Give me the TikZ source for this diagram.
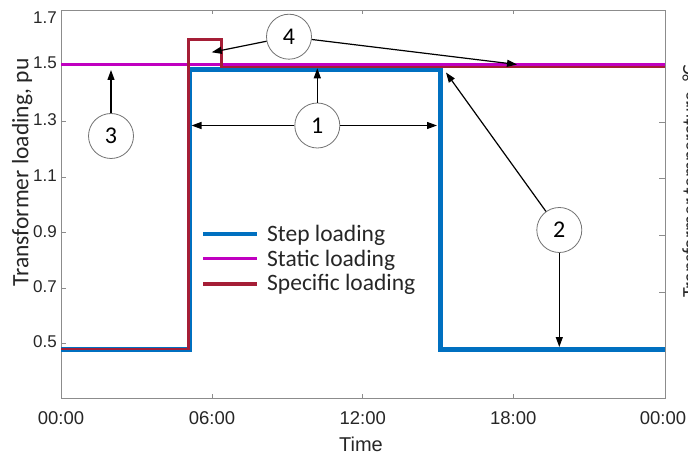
\documentclass[tikz,border=0pt]{standalone}
\usepackage{fontspec}
\setmainfont{Carlito}
\newfontfamily\arialfont{Liberation Sans}
\usetikzlibrary{arrows.meta}
\definecolor{steplc}{HTML}{0070C0}
\definecolor{staticlc}{HTML}{C000C0}
\definecolor{specificlc}{HTML}{A51E36}
\definecolor{axisgray}{HTML}{8C8C8C}
\definecolor{inkgray}{HTML}{262626}

\begin{document}
\begin{tikzpicture}[x=1pt,y=-1pt,
  axisline/.style={draw=axisgray, line width=1pt},
  yticklab/.style={anchor=east, inner sep=0pt, text=inkgray, font=\arialfont\fontsize{17}{17}\selectfont},
  xticklab/.style={anchor=center, inner sep=0pt, text=inkgray, font=\arialfont\fontsize{18.5}{18.5}\selectfont},
  legendtext/.style={anchor=base west, inner sep=0pt, text=inkgray, font=\fontsize{23.5}{23.5}\selectfont},
  callout/.style={circle, draw=black!55, line width=0.8pt, fill=white, minimum size=45pt, inner sep=0pt, text=black, font=\fontsize{24}{24}\selectfont},
  pointer/.style={draw=black, line width=1.2pt, -{Triangle[length=10pt,width=7pt]}}]
\useasboundingbox (0,0) rectangle (688,457);

% axes box and ticks
\draw[axisline] (61,10.5) rectangle (665,398);
\foreach \yy in {65,121.7,177.3,233,288.7,343.3}
  \draw[axisline] (61,\yy) -- ++(5,0);
\foreach \yy in {123,179,236,292}
  \draw[axisline] (665,\yy) -- ++(-6,0);
\foreach \xx in {212,362.7,513.3} {
  \draw[axisline] (\xx,10.5) -- ++(0,4);
  \draw[axisline] (\xx,398) -- ++(0,-4);
}

% tick labels
\node[yticklab] (l17) at (57,18) {1.7};
\node[yticklab] (l15) at (57,63) {1.5};
\node[yticklab] (l13) at (57,119.5) {1.3};
\node[yticklab] (l11) at (57,175.5) {1.1};
\node[yticklab] (l09) at (57,231.5) {0.9};
\node[yticklab] (l07) at (57,287) {0.7};
\node[yticklab] (l05) at (57,341.5) {0.5};
\node[xticklab] (h00) at (61,418) {00:00};
\node[xticklab] (h06) at (212,418) {06:00};
\node[xticklab] (h12) at (362.7,418) {12:00};
\node[xticklab] (h18) at (513.3,418) {18:00};
\node[xticklab] (h24) at (663,418) {00:00};

% axis titles
\node[xticklab, font=\arialfont\fontsize{20}{20}\selectfont] (xtitle) at (361,444) {Time};
\node[rotate=90, anchor=base, inner sep=0pt, text=inkgray, font=\fontsize{23.5}{23.5}\selectfont] (ytitle) at (28.3,172.5) {Transformer loading, pu};
\node[rotate=90, anchor=base, inner sep=0pt, text=inkgray, font=\fontsize{20}{20}\selectfont] (y2title) at (696,181) {Transformer temperature, °C};

% load curves
\draw[steplc, line width=5pt] (61,349) -- (189,349) -- (189,70) -- (440,70) -- (440,349) -- (665,349);
\draw[staticlc, line width=3.5pt] (61,64.3) -- (665,64.3);
\draw[specificlc, line width=2.5pt] (61,349) -- (188.7,349) -- (188.7,39.3) -- (221.7,39.3) -- (221.7,66.8) -- (665,66.8);

% legend
\draw[steplc, line width=4.5pt] (203,234) -- (257,234);
\draw[staticlc, line width=3.5pt] (203,258.3) -- (257,258.3);
\draw[specificlc, line width=4pt] (203,284) -- (257,284);
\node[legendtext] (lg1) at (267,241.7) {Step loading};
\node[legendtext] (lg2) at (267,266) {Static loading};
\node[legendtext] (lg3) at (267,290) {Specific loading};

% numbered callouts
\node[callout] (c4) at (289,36.7) {4};
\node[callout] (c1) at (317.3,125.5) {1};
\node[callout] (c3) at (111,136) {3};
\node[callout] (c2) at (559.3,230) {2};

\coordinate (t4a) at (211.7,52.3);
\coordinate (t4b) at (517,64.5);
\coordinate (t1u) at (317.3,68.3);
\coordinate (t1l) at (191.5,125.5);
\coordinate (t1r) at (437,125.5);
\coordinate (t3) at (111,70);
\coordinate (t2a) at (446,72.5);
\coordinate (t2b) at (559.3,347);

\draw[pointer] (c4) -- (t4a);
\draw[pointer] (c4) -- (t4b);
\draw[pointer] (c1) -- (t1u);
\draw[pointer] (c1) -- (t1l);
\draw[pointer] (c1) -- (t1r);
\draw[pointer] (c3) -- (t3);
\draw[pointer] (c2) -- (t2a);
\draw[pointer] (c2) -- (t2b);
\end{tikzpicture}
\end{document}
